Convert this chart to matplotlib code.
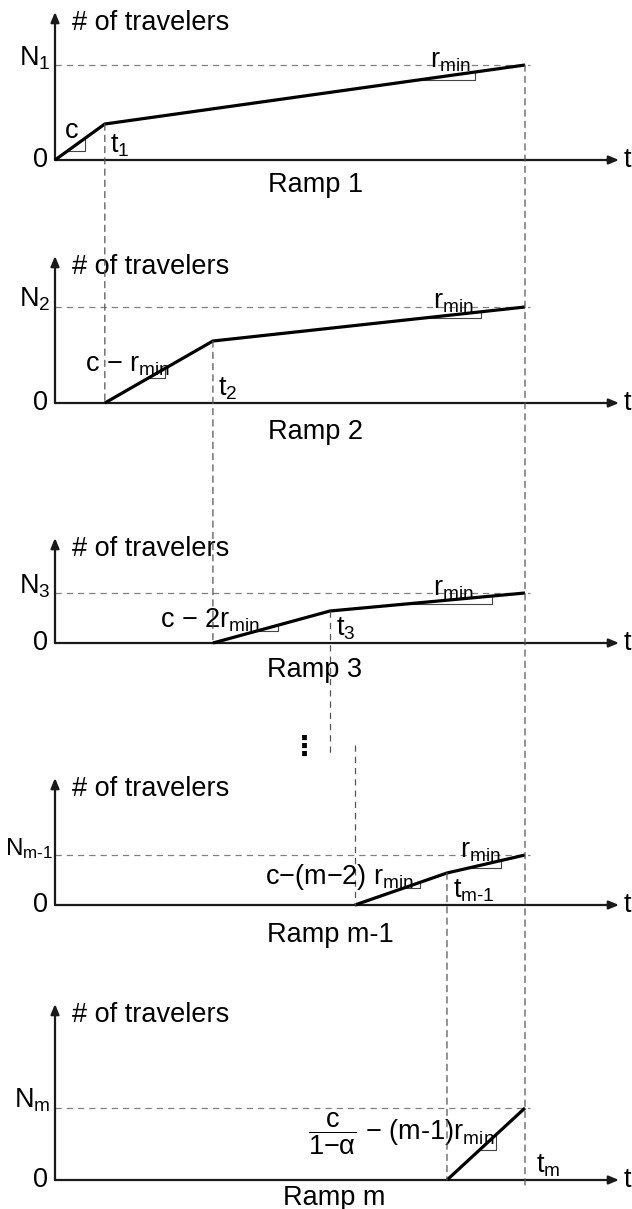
import matplotlib
matplotlib.use('Agg')
import matplotlib.pyplot as plt
from matplotlib.patches import ConnectionPatch

plt.rcParams['font.family'] = ['Liberation Sans', 'DejaVu Sans']
plt.rcParams['mathtext.fontset'] = 'custom'
plt.rcParams['mathtext.rm'] = 'Liberation Sans'
plt.rcParams['mathtext.it'] = 'Liberation Sans'
plt.rcParams['mathtext.bf'] = 'Liberation Sans:bold'
plt.rcParams['mathtext.default'] = 'regular'

# --- data: cumulative travelers per ramp (schematic units) ---
ramps = ['Ramp 1', 'Ramp 2', 'Ramp 3', 'Ramp m-1', 'Ramp m']
start_t = [0.0, 1.06, 3.36, 6.38, 8.34]      # time the ramp starts to fill
break_t = [1.06, 3.36, 5.85, 8.34, None]      # t_1, t_2, t_3, t_{m-1}
end_t = 10.0                                  # common end time (t_m)
break_n = [3.6, 6.2, 3.2, 3.2, None]          # count at the break
final_n = [9.5, 9.6, 5.0, 5.0, 7.2]           # N_1 ... N_m

n_labels = ['N$_1$', 'N$_2$', 'N$_3$', r'N$_{m\text{-}1}$', 'N$_m$']
t_labels = ['t$_1$', 't$_2$', 't$_3$', r't$_{m\text{-}1}$', 't$_m$']
slope_labels = ['c', 'c \u2212 r$_{min}$', 'c \u2212 2r$_{min}$',
                'c\u2212(m\u22122) r$_{min}$',
                r'$\dfrac{c}{1{-}\alpha}$' + ' \u2212 (m-1)r$_{min}$']

# --- layout (pixels) ---
W, H = 632, 1209
top_px = [12, 256, 538, 778, 1004]
base_px = [160, 403, 643, 905, 1180]
x0_px, x1_px = 55, 619
t_max = 12.0
unit_px = 10.0
fs = 19.5
slope_pos = [(65, 138), (85, 372), (160, 628), (265, 884), (308, 1140)]
rmin_x = [430, 433, 433, 460]
ramp_pos = [(316, 185), (315, 432), (315, 670), (330, 935), (334, 1198)]
tri1 = [(0.26, 0.60), (0.40, 0.56), (0.36, 0.56), (0.52, 0.71), (0.42, 0.63)]
tri2 = [(0.74, 0.88), (0.67, 0.86), (0.39, 0.83), (0.30, 0.69)]
n_size = [fs, fs, fs, 17.5, fs]

dash = (0, (5, 4))
dash_col = '#808080'
vdash_col = '#555555'

fig = plt.figure(figsize=(W / 100, H / 100), dpi=100)


def ftext(x, y, s, **kw):
    return fig.text(x / W, 1 - y / H, s, fontsize=fs, **kw)


def slope_tri(ax, xa, ya, xb, yb, f):
    ta, tb = xa + f[0] * (xb - xa), xa + f[1] * (xb - xa)
    na, nb = ya + f[0] * (yb - ya), ya + f[1] * (yb - ya)
    ax.plot([ta, tb, tb], [na, na, nb], color='#444444', lw=0.8, zorder=2)


axes = []
for i in range(5):
    h = base_px[i] - top_px[i]
    ax = fig.add_axes([x0_px / W, 1 - base_px[i] / H, (x1_px - x0_px) / W, h / H])
    ax.set_xlim(0, t_max)
    ax.set_ylim(0, h / unit_px)
    ax.axis('off')
    axes.append(ax)

    arrow = dict(arrowstyle='-|>,head_length=0.6,head_width=0.25', color='#1a1a1a',
                 lw=1.6, shrinkA=0, shrinkB=0)
    ax.annotate('', xy=(1, 0), xytext=(0, 0), xycoords='axes fraction', arrowprops=arrow)
    ax.annotate('', xy=(0, 1), xytext=(0, 0), xycoords='axes fraction', arrowprops=arrow)

    # cumulative curve
    if break_t[i] is None:
        xs, ys = [start_t[i], end_t], [0, final_n[i]]
    else:
        xs, ys = [start_t[i], break_t[i], end_t], [0, break_n[i], final_n[i]]
    ax.plot(xs, ys, color='black', lw=2.3, solid_capstyle='butt', zorder=3, clip_on=False)
    ax.plot([0, end_t + 0.1], [final_n[i]] * 2, ls=dash, color=dash_col, lw=0.9, zorder=1)

    # slope triangles
    slope_tri(ax, xs[0], ys[0], xs[1], ys[1], tri1[i])
    if break_t[i] is not None:
        slope_tri(ax, xs[1], ys[1], xs[2], ys[2], tri2[i])
        ax.text((rmin_x[i] - x0_px) / (x1_px - x0_px) * t_max, final_n[i] - 0.2,
                'r$_{min}$', fontsize=fs, va='baseline', ha='left')

    # axis labels
    ax.annotate('# of travelers', xy=(0, 1), xycoords='axes fraction', xytext=(12, -8),
                textcoords='offset points', ha='left', va='center', fontsize=fs)
    ax.annotate(n_labels[i], xy=(0, final_n[i]), xytext=(-3 if i != 3 else -1, 0),
                textcoords='offset points', ha='right', va='baseline', fontsize=n_size[i])
    ax.annotate('0', xy=(0, 0), xytext=(-5, 0), textcoords='offset points',
                ha='right', va='center', fontsize=fs)
    ax.annotate('t', xy=(1, 0), xycoords='axes fraction', xytext=(3, 0),
                textcoords='offset points', ha='left', va='center', fontsize=fs)
    tx = break_t[i] if break_t[i] is not None else end_t
    ax.annotate(t_labels[i], xy=(tx, 0), xytext=(4 if break_t[i] is not None else 8, 1),
                textcoords='offset points', ha='left', va='bottom', fontsize=fs)

    ftext(slope_pos[i][0], slope_pos[i][1], slope_labels[i], ha='left', va='baseline')
    ftext(ramp_pos[i][0], ramp_pos[i][1], ramps[i], ha='center', va='center')

# vertical dashed guides linking the ramps
vkw = dict(ls=dash, color=vdash_col, lw=0.9, zorder=5)
for i in [0, 1, 3]:
    fig.add_artist(ConnectionPatch(xyA=(break_t[i], break_n[i]), coordsA=axes[i].transData,
                                   xyB=(break_t[i], 0), coordsB=axes[i + 1].transData, **vkw))
fig.add_artist(ConnectionPatch(xyA=(end_t, final_n[0]), coordsA=axes[0].transData,
                               xyB=(end_t, -0.5), coordsB=axes[4].transData, **vkw))
# gap between Ramp 3 and Ramp m-1
axes[2].plot([break_t[2], break_t[2]], [break_n[2], -(755 - base_px[2]) / unit_px],
             clip_on=False, **vkw)
axes[3].plot([start_t[3], start_t[3]], [(base_px[3] - 745) / unit_px, 0],
             clip_on=False, **vkw)
ftext(304, 748, '\u22ee', ha='center', va='center', family=['DejaVu Sans'],
      fontweight='bold')

fig.savefig('out.png', dpi=100)
